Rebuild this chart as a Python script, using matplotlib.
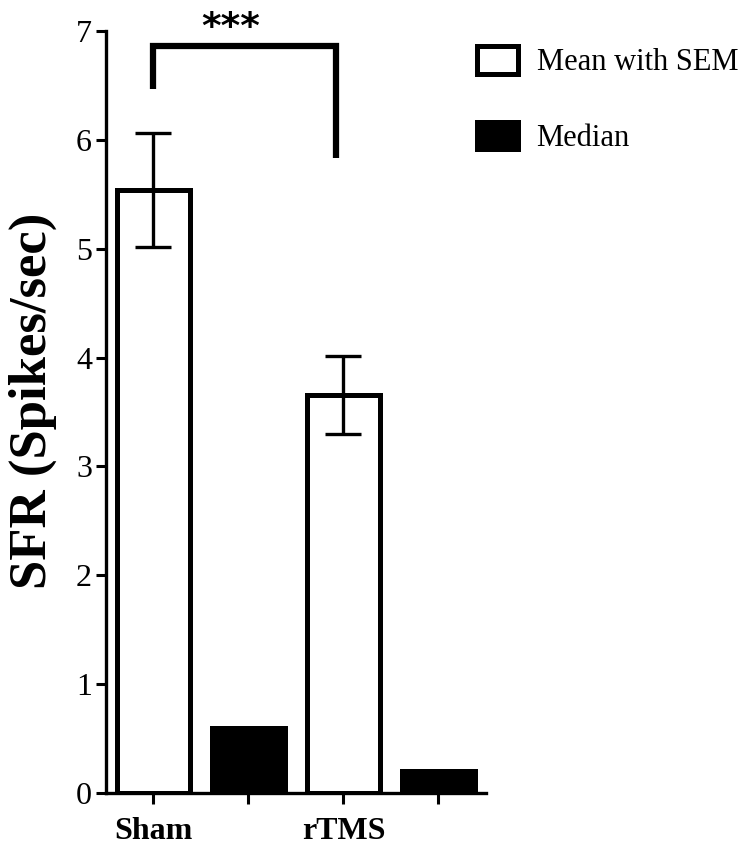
import matplotlib
matplotlib.use("Agg")
import matplotlib.pyplot as plt
from matplotlib.patches import Patch

# values
groups = ["Sham", "rTMS"]
mean_vals = [5.54, 3.655]
sem_vals = [0.52, 0.36]
median_vals = [0.60, 0.20]
tick_labels = ["Sham", "", "rTMS", ""]

# significance bracket (data coords)
bracket_x = [0, 0, 1.92, 1.92]
bracket_y = [6.47, 6.86, 6.86, 5.83]

serif = "Liberation Serif"

fig = plt.figure(figsize=(7.56, 8.58), dpi=100)
ax = fig.add_axes([0.1402, 0.0758, 0.5026, 0.8881])

mean_x = [0, 2]
median_x = [1, 3]
bw = 0.76

ax.bar(mean_x, mean_vals, width=bw, facecolor="white", edgecolor="black",
       linewidth=3.6, zorder=2)
ax.bar(median_x, median_vals, width=bw, facecolor="black", edgecolor="black",
       linewidth=3.6, zorder=2)
ax.errorbar(mean_x, mean_vals, yerr=sem_vals, fmt="none", ecolor="black",
            elinewidth=2.4, capsize=13, capthick=2.4, zorder=3)

ax.plot(bracket_x, bracket_y, color="black", linewidth=4.5,
        solid_capstyle="butt", solid_joinstyle="miter", clip_on=False)
ax.text(0.81, 7.03, "***", ha="center", va="center", fontsize=27,
        fontweight="bold", family="DejaVu Sans", clip_on=False)

ax.set_xlim(-0.5, 3.5)
ax.set_ylim(0, 7)
ax.set_xticks(range(4))
ax.set_xticklabels(tick_labels, family=serif, fontweight="bold", fontsize=23)
ax.set_yticks(range(8))
ax.set_yticklabels([str(v) for v in range(8)], family=serif, fontsize=23)

for side in ["top", "right"]:
    ax.spines[side].set_visible(False)
for side in ["left", "bottom"]:
    ax.spines[side].set_linewidth(2.4)
ax.tick_params(axis="y", length=7, width=2.2, pad=3)
ax.tick_params(axis="x", length=8, width=2.2, pad=9)

ax.set_ylabel("SFR (Spikes/sec)", family=serif, fontweight="bold", fontsize=38)
ax.yaxis.set_label_coords(-0.13, 0.515)

handles = [
    Patch(facecolor="white", edgecolor="black", linewidth=3.6, label="Mean with SEM"),
    Patch(facecolor="black", edgecolor="black", linewidth=3.6, label="Median"),
]
fig.legend(handles=handles, loc="upper left", bbox_to_anchor=(0.631, 0.946),
           frameon=False, prop={"family": serif, "size": 22},
           handlelength=1.35, handleheight=1.0, handletextpad=0.6,
           labelspacing=1.45, borderpad=0, borderaxespad=0)

fig.savefig("out.png", dpi=100)
